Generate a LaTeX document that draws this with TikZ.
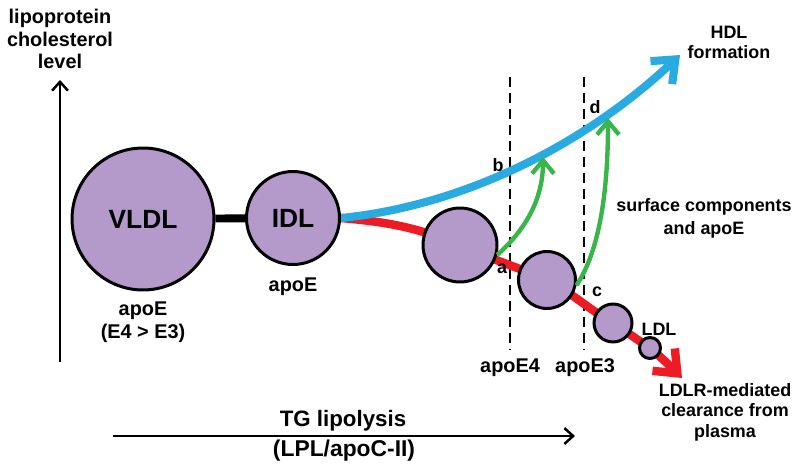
\documentclass[tikz,border=0pt]{standalone}
\usepackage{fontspec}
\setmainfont{Liberation Sans}
\usetikzlibrary{arrows.meta}
\pgfdeclarelayer{bg}
\pgfsetlayers{bg,main}
\definecolor{lp}{RGB}{180,153,203}
\definecolor{cblue}{RGB}{41,171,226}
\definecolor{cred}{RGB}{237,28,36}
\definecolor{cgreen}{RGB}{57,181,74}
\begin{document}
\begin{tikzpicture}[x=0.02cm,y=0.02cm,
  lipo/.style={circle,draw=black,line width=1.7pt,fill=lp,inner sep=0pt},
  bigtxt/.style={font=\bfseries\fontsize{15pt}{18pt}\selectfont},
  txt/.style={font=\bfseries\fontsize{11.3pt}{13pt}\selectfont,align=center,inner sep=0pt},
  stxt/.style={font=\bfseries\fontsize{10.2pt}{11.4pt}\selectfont,align=center,inner sep=0pt},
  axistxt/.style={font=\bfseries\fontsize{12.7pt}{15pt}\selectfont,inner sep=0pt},
  axis/.style={line width=1.4pt,-{Straight Barb[length=5pt,width=9pt]}},
  guide/.style={line width=1.6pt,dash pattern=on 5.7pt off 3.4pt},
  link/.style={line width=4.5pt},
  flowblue/.style={line width=4.6pt,cblue,-{Straight Barb[length=11pt,width=18pt]}},
  flowred/.style={line width=4.8pt,cred,-{Straight Barb[length=11pt,width=18pt]}},
  flowgreen/.style={line width=2.5pt,cgreen,-{Straight Barb[length=7.5pt,width=12.5pt]}}
]
\useasboundingbox (0,0) rectangle (800,-469);

% lipoprotein particles
\node[lipo,minimum size=2.84cm,bigtxt] (vldl) at (143,-219) {VLDL};
\node[lipo,minimum size=1.86cm,bigtxt] (idl) at (293,-218) {IDL};
\node[lipo,minimum size=1.48cm] (c1) at (460,-245) {};
\node[lipo,minimum size=1.14cm] (c2) at (547,-280) {};
\node[lipo,minimum size=0.76cm] (c3) at (613,-323) {};
\node[lipo,minimum size=0.42cm] (c4) at (650,-348) {};

% free ends
\coordinate (hdltip) at (680,-55);
\coordinate (ldltip) at (682,-378);
\coordinate (g1tip) at (543,-157);
\coordinate (g2tip) at (608,-118);
\coordinate (e4top) at (510,-77);
\coordinate (e4bot) at (510,-350);
\coordinate (e3top) at (584,-77);
\coordinate (e3bot) at (584,-350);
\coordinate (ybot) at (60,-362);
\coordinate (ytop) at (60,-80);
\coordinate (xleft) at (113,-436);
\coordinate (xright) at (575,-436);

\begin{pgfonlayer}{bg}
  \draw[guide] (e4top) -- (e4bot);
  \draw[guide] (e3top) -- (e3bot);
  \draw[link] (vldl) -- (idl);
  \draw[flowred] (idl.east) to[out=-5,in=158] (c1.center)
     to[out=-24,in=157] (c2.center)
     to[out=-28,in=150] (c3.center)
     to[out=-33,in=147] (c4.center)
     to[out=-40,in=135] (ldltip);
  \draw[flowblue] (idl.east) .. controls (470,-205) and (590,-140) .. (hdltip);
\end{pgfonlayer}

\draw[flowgreen] (c1.-15) .. controls (525,-230) and (543,-200) .. (g1tip);
\draw[flowgreen] (c2.-10) .. controls (600,-250) and (608,-190) .. (g2tip);

% axes
\draw[axis] (ybot) -- (ytop);
\draw[axis] (xleft) -- (xright);

% labels
\node[txt] (ylab) at (60,-39) {lipoprotein\\cholesterol\\level};
\node[txt] (vlab) at (143,-322) {apoE\\(E4 > E3)};
\node[txt] (ilab) at (293,-287) {apoE};
\node[stxt] (hdl) at (729,-42) {HDL\\formation};
\node[stxt,font=\bfseries\fontsize{10.2pt}{13pt}\selectfont] (surf) at (704,-218) {surface components\\and apoE};
\node[stxt,font=\bfseries\fontsize{10.2pt}{11.6pt}\selectfont] (ldlr) at (725,-412) {LDLR-mediated\\clearance from\\plasma};
\node[txt] (e4) at (510,-368) {apoE4};
\node[txt] (e3) at (585,-368) {apoE3};
\node[stxt] (ldl) at (659,-329) {LDL};
\node[stxt] (la) at (502,-269) {a};
\node[stxt] (lb) at (498,-165) {b};
\node[stxt] (lc) at (597,-292) {c};
\node[stxt] (ld) at (595,-107) {d};
\node[axistxt] (tg) at (343,-421) {TG lipolysis};
\node[axistxt,font=\bfseries\fontsize{13pt}{15pt}\selectfont] (lpl) at (344,-451) {(LPL/apoC-II)};
\end{tikzpicture}
\end{document}
